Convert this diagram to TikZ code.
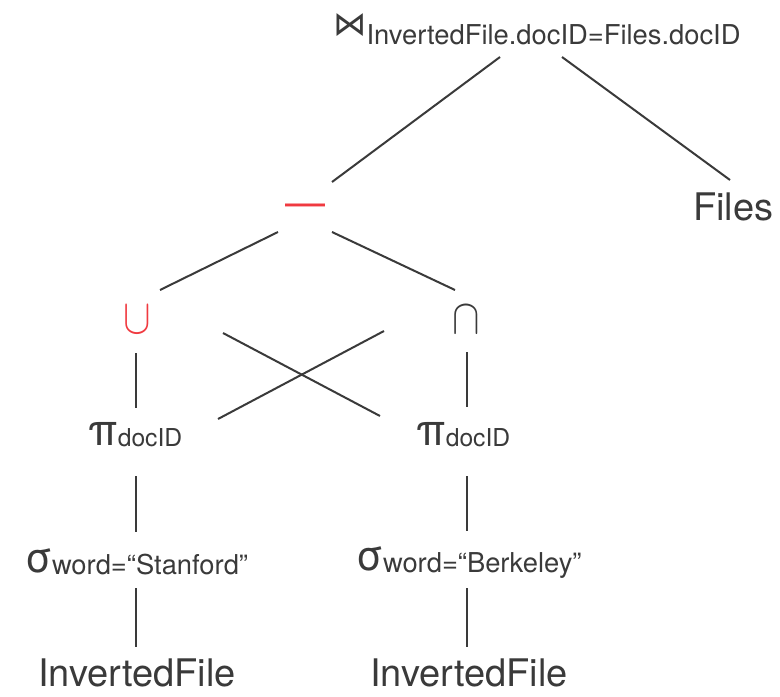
\documentclass[tikz,border=0pt]{standalone}
\usepackage{fontspec}
\usepackage{graphicx}
\setmainfont{TeX Gyre Heros}
\newfontfamily\symfont{DejaVu Sans}
\usetikzlibrary{calc}
\definecolor{inkgray}{HTML}{3A3A3A}
\definecolor{opred}{HTML}{F03A40}
\newcommand\mainsize{\fontsize{28.5}{30}\selectfont}
\newcommand\greeksize{\fontsize{33}{35}\selectfont}
\newcommand\subsize{\fontsize{20.5}{22}\selectfont}
\newcommand\idsize{\fontsize{18.5}{20}\selectfont}
\newcommand\setsym[1]{\scalebox{3.1}[3.7]{$#1$}}
\begin{document}
\begin{tikzpicture}[x=0.75pt,y=-0.75pt]

    \tikzset{
      op/.style={
        inner sep=0pt,
        text=inkgray,
        font=\mainsize,
      },
      setop/.style={
        op,
        anchor=base,
        font=\normalsize,
      },
      edge/.style={
        draw=inkgray,
        line width=1.5pt,
      },
    }
    \useasboundingbox (0,0) rectangle (780,696);
	\node[op,anchor=base west] (join) at (333,35) {{\symfont\fontsize{25}{27}\selectfont ⋈}\lower6.75pt\hbox{\subsize InvertedFile.docID=Files.docID}};
	\node[op,anchor=base west] (files) at (693,220) {Files};
	\node[op,anchor=base,text=opred,font=\fontsize{30}{32}\selectfont] (minus) at (305,216) {—};
	\node[setop,text=opred] (union) at (137,333) {\setsym{\cup}};
	\node[setop] (inter) at (466,333) {\setsym{\cap}};
	\node[op,anchor=base west] (piL) at (88,445) {{\greeksize π}\lower0.75pt\hbox{\idsize docID}};
	\node[op,anchor=base west] (piR) at (416,445) {{\greeksize π}\lower0.75pt\hbox{\idsize docID}};
	\node[op,anchor=base west] (sigL) at (25,572) {{\fontsize{31}{33}\selectfont σ}\lower1.5pt\hbox{\subsize word=“Stanford”}};
	\node[op,anchor=base west] (sigR) at (356,570) {{\fontsize{31}{33}\selectfont σ}\lower1.5pt\hbox{\subsize word=“Berkeley”}};
	\node[op,anchor=base] (invL) at (137,686) {InvertedFile};
	\node[op,anchor=base] (invR) at (469,686) {InvertedFile};

	\draw[edge] ($(join.base west)+(167,22)$) -- ($(minus.base)+(27,-34)$);
	\draw[edge] ($(join.base west)+(229,22)$) -- ($(files.base west)+(37,-40)$);
	\draw[edge] ($(minus.base)+(-27,16)$) -- ($(union.base)+(23,-43)$);
	\draw[edge] ($(minus.base)+(27,16)$) -- ($(inter.base)+(-11,-43)$);
	\draw[edge] ($(union.base)+(-1,20)$) -- ($(piL.base west)+(48,-37)$);
	\draw[edge] ($(inter.base)+(1,19)$) -- ($(piR.base west)+(51,-38)$);
	\draw[edge] ($(union.base)+(86,0)$) -- ($(piR.base west)+(-36,-29)$);
	\draw[edge] ($(inter.base)+(-82,-2)$) -- ($(piL.base west)+(130,-26)$);
	\draw[edge] ($(piL.base west)+(48,31)$) -- ($(sigL.base west)+(111,-40)$);
	\draw[edge] ($(piR.base west)+(51,31)$) -- ($(sigR.base west)+(111,-39)$);
	\draw[edge] ($(sigL.base west)+(111,16)$) -- ($(invL.base)+(-1,-39)$);
	\draw[edge] ($(sigR.base west)+(111,18)$) -- ($(invR.base)+(-2,-39)$);

\end{tikzpicture}
\end{document}
